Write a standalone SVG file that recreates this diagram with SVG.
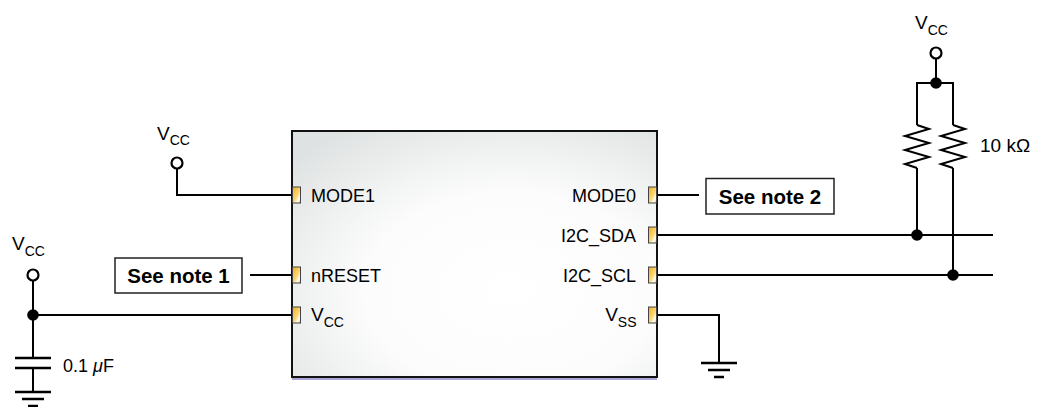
<svg xmlns="http://www.w3.org/2000/svg" width="1039" height="407" viewBox="0 0 1039 407">
<defs>
<radialGradient id="chipFill" cx="0.6" cy="0.65" r="0.8">
<stop offset="0" stop-color="#ffffff"/>
<stop offset="0.5" stop-color="#fcfcfc"/>
<stop offset="1" stop-color="#dfe2e2"/>
</radialGradient>
<linearGradient id="pinFill" x1="0" y1="0" x2="1" y2="1">
<stop offset="0" stop-color="#f0ad2c"/>
<stop offset="0.55" stop-color="#fcd873"/>
<stop offset="0.78" stop-color="#ffffff"/>
<stop offset="1" stop-color="#f6c95a"/>
</linearGradient>
</defs>
<style>
.w{fill:none;stroke:#000;stroke-width:2}
.g{fill:none;stroke:#000;stroke-width:2.5}
.dot{fill:#000}
.term{fill:#fff;stroke:#000;stroke-width:2.2}
.pin{fill:url(#pinFill);stroke:#444;stroke-width:1}
.t{font-family:"Liberation Sans",Arial,sans-serif;font-size:18px;fill:#000}
.v{font-family:"Liberation Sans",Arial,sans-serif;font-size:19px;fill:#000}
.b{font-family:"Liberation Sans",Arial,sans-serif;font-size:20.5px;font-weight:bold;fill:#000}
.note{fill:#fff;stroke:#222;stroke-width:1.5}
</style>
<rect width="1039" height="407" fill="#fff"/>

<g id="connectors">
<path class="w" d="M177,169 V195 H292"/>
<path class="w" d="M250,275 H292"/>
<path class="w" d="M33,281 V358"/>
<path class="w" d="M33,315 H292"/>
<path class="w" d="M33,368 V392"/>
<path class="w" d="M657,195 H699"/>
<path class="w" d="M657,235 H993"/>
<path class="w" d="M657,275 H993"/>
<path class="w" d="M657,315 H719 V363"/>
<path class="w" d="M936,59 V83"/>
<path class="w" d="M917,125 V83 H953 V125"/>
<path class="w" d="M917,168 V235"/>
<path class="w" d="M953,168 V275"/>
</g>

<g id="chip">
<rect x="292" y="131" width="365" height="246" fill="url(#chipFill)" stroke="#111" stroke-width="2"/>
<line x1="292" y1="379" x2="657" y2="379" stroke="#a9a6d6" stroke-width="2"/>
<rect class="pin" x="292.5" y="187" width="8" height="16"/>
<rect class="pin" x="292.5" y="267" width="8" height="16"/>
<rect class="pin" x="292.5" y="307" width="8" height="16"/>
<rect class="pin" x="648.5" y="187" width="8" height="16"/>
<rect class="pin" x="648.5" y="227" width="8" height="16"/>
<rect class="pin" x="648.5" y="267" width="8" height="16"/>
<rect class="pin" x="648.5" y="307" width="8" height="16"/>
<text class="t" x="311" y="201.5">MODE1</text>
<text class="t" x="311" y="281.5">nRESET</text>
<text class="v" x="311" y="320.5">V<tspan font-size="14" dy="6">CC</tspan></text>
<text class="t" x="636" y="201.5" text-anchor="end">MODE0</text>
<text class="t" x="636" y="241.5" text-anchor="end">I2C_SDA</text>
<text class="t" x="636" y="281.5" text-anchor="end">I2C_SCL</text>
<text class="v" x="636.5" y="320.5" text-anchor="end">V<tspan font-size="14" dy="6">SS</tspan></text>
</g>

<g id="vcc-mode1">
<text class="v" x="157" y="140">V<tspan font-size="14" dy="5">CC</tspan></text>
<circle class="term" cx="177" cy="163" r="5.5"/>
</g>

<g id="vcc-left">
<text class="v" x="12" y="250">V<tspan font-size="14" dy="6">CC</tspan></text>
<circle class="term" cx="33" cy="275" r="5.5"/>
<circle class="dot" cx="33" cy="315" r="5.8"/>
</g>

<g id="note1">
<rect class="note" x="115" y="258" width="127" height="35"/>
<text class="b" x="178.5" y="283" text-anchor="middle">See note 1</text>
</g>

<g id="note2">
<rect class="note" x="706" y="178.5" width="128" height="35.5"/>
<text class="b" x="770" y="203.5" text-anchor="middle">See note 2</text>
</g>

<g id="capacitor">
<line class="g" x1="15" y1="358" x2="51" y2="358"/>
<line class="g" x1="15" y1="368" x2="51" y2="368"/>
<text class="t" x="63" y="371.5">0.1 <tspan font-style="italic">μ</tspan>F</text>
</g>

<g id="gnd-left">
<line class="g" x1="15" y1="392" x2="51" y2="392"/>
<line class="g" x1="22" y1="399" x2="44" y2="399"/>
<line class="g" x1="28" y1="406" x2="38" y2="406"/>
</g>

<g id="gnd-vss">
<line class="g" x1="701" y1="363" x2="737" y2="363"/>
<line class="g" x1="708" y1="370" x2="730" y2="370"/>
<line class="g" x1="714" y1="377" x2="724" y2="377"/>
</g>

<g id="vcc-right">
<text class="v" x="915" y="29">V<tspan font-size="14" dy="6">CC</tspan></text>
<circle class="term" cx="936" cy="53" r="5.5"/>
<circle class="dot" cx="936" cy="83" r="5.8"/>
</g>

<g id="pullups">
<path class="w" d="M917,125 L929,129 L905,136 L929,143 L905,150 L929,157 L905,164 L917,168"/>
<path class="w" d="M953,125 L965,129 L941,136 L965,143 L941,150 L965,157 L941,164 L953,168"/>
<text class="v" x="980" y="151.5">10 kΩ</text>
<circle class="dot" cx="917" cy="235" r="5.8"/>
<circle class="dot" cx="953" cy="275" r="5.8"/>
</g>
</svg>
